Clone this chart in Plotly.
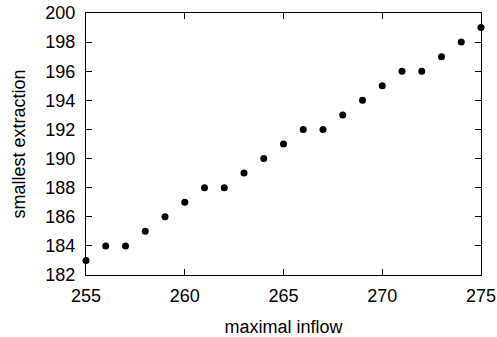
import plotly.graph_objects as go

inflow = [255, 256, 257, 258, 259, 260, 261, 262, 263, 264, 265,
          266, 267, 268, 269, 270, 271, 272, 273, 274, 275]
extraction = [183, 184, 184, 185, 186, 187, 188, 188, 189, 190, 191,
              192, 192, 193, 194, 195, 196, 196, 197, 198, 199]

fig = go.Figure(go.Scatter(
    x=inflow, y=extraction, mode="markers",
    marker=dict(color="black", size=7),
    cliponaxis=False,
))

font = dict(family="Liberation Sans, Arial, sans-serif", size=18, color="black")
axis_common = dict(
    showline=True, linecolor="black", linewidth=1, mirror="ticks",
    ticks="inside", ticklen=6, tickcolor="black", tickwidth=1,
    showgrid=False, zeroline=False, tickfont=font, automargin=False,
)
fig.update_layout(
    width=497, height=337,
    margin=dict(l=86, r=16, t=13, b=62),
    paper_bgcolor="white", plot_bgcolor="white",
    showlegend=False,
    font=font,
    xaxis=dict(range=[255, 275], tickvals=[255, 260, 265, 270, 275],
               title=dict(text="maximal inflow", font=font, standoff=15),
               ticklabelstandoff=4, **axis_common),
    yaxis=dict(range=[182, 200], tickvals=list(range(182, 201, 2)),
               title=dict(text="smallest extraction", font=font, standoff=15),
               ticklabelstandoff=6, **axis_common),
)
fig.write_html("out.html")
